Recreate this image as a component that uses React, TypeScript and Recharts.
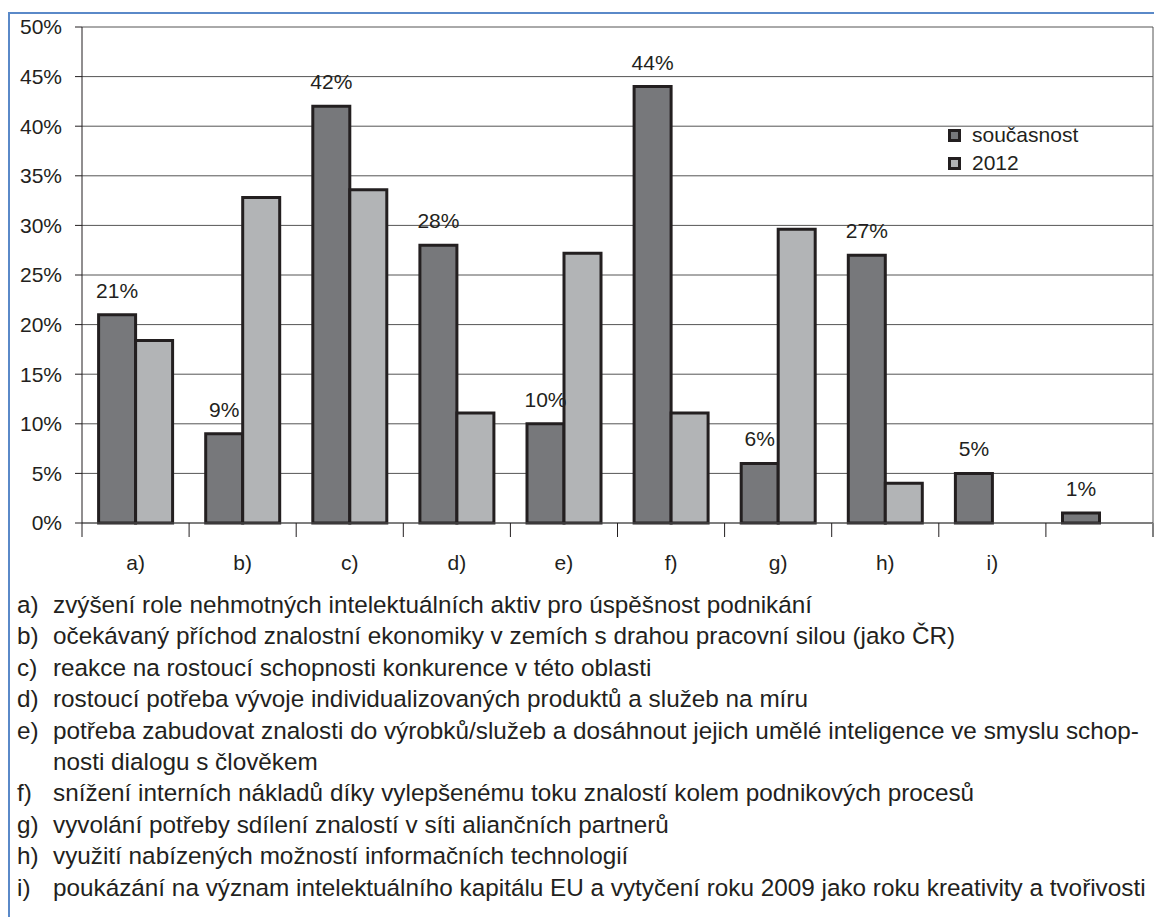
import React from 'react';
import { BarChart, Bar, XAxis, YAxis, CartesianGrid, Legend, LabelList } from 'recharts';

const categories = ['a)', 'b)', 'c)', 'd)', 'e)', 'f)', 'g)', 'h)', 'i)', ''];
const current = [21, 9, 42, 28, 10, 44, 6, 27, 5, 1];
const year2012 = [18.4, 32.8, 33.6, 11.1, 27.2, 11.1, 29.6, 4.0, null, null];
const yTicks = [0, 5, 10, 15, 20, 25, 30, 35, 40, 45, 50];

const descriptions: [string, string[]][] = [
  ['a)', ['zvýšení role nehmotných intelektuálních aktiv pro úspěšnost podnikání']],
  ['b)', ['očekávaný příchod znalostní ekonomiky v zemích s drahou pracovní silou (jako ČR)']],
  ['c)', ['reakce na rostoucí schopnosti konkurence v této oblasti']],
  ['d)', ['rostoucí potřeba vývoje individualizovaných produktů a služeb na míru']],
  ['e)', ['potřeba zabudovat znalosti do výrobků/služeb a dosáhnout jejich umělé inteligence ve smyslu schop-', 'nosti dialogu s člověkem']],
  ['f)', ['snížení interních nákladů díky vylepšenému toku znalostí kolem podnikových procesů']],
  ['g)', ['vyvolání potřeby sdílení znalostí v síti aliančních partnerů']],
  ['h)', ['využití nabízených možností informačních technologií']],
  ['i)', ['poukázání na význam intelektuálního kapitálu EU a vytyčení roku 2009 jako roku kreativity a tvořivosti']],
];

const data = categories.map((name, i) => ({ name, current: current[i], y2012: year2012[i] }));

const FONT = '"Liberation Sans", Arial, sans-serif';
const INK = '#231f20';
const DARK = '#77787b';
const LIGHT = '#b2b4b6';

// category label plus the boundary tick marks between categories
const CategoryTick = (props: any) => {
  const { x, y, payload, index } = props;
  const half = payload.offset ?? 0;
  const last = index === categories.length - 1;
  return (
    <g>
      <line x1={x - half} x2={x - half} y1={y} y2={y + 14} stroke={INK} strokeWidth={1} />
      {last && <line x1={x + half} x2={x + half} y1={y} y2={y + 14} stroke="#808080" strokeWidth={2} />}
      <text x={x} y={y + 47} textAnchor="middle" fontSize={21} fontFamily={FONT} fill={INK}>
        {payload.value}
      </text>
    </g>
  );
};

const LegendBox = () => (
  <div style={{ fontFamily: FONT, fontSize: 21, color: INK, lineHeight: '28px' }}>
    {[
      { label: 'současnost', fill: DARK },
      { label: '2012', fill: LIGHT },
    ].map((item) => (
      <div key={item.label} style={{ display: 'flex', alignItems: 'center' }}>
        <span
          style={{
            display: 'inline-block',
            width: 7,
            height: 7,
            border: `3px solid ${INK}`,
            background: item.fill,
            marginRight: 11,
          }}
        />
        {item.label}
      </div>
    ))}
  </div>
);

export default function App() {
  return (
    <div style={{ position: 'relative', width: 1154, height: 909, background: '#fff' }}>
      <div
        style={{
          position: 'absolute',
          left: 0,
          top: 4,
          right: 0,
          bottom: 0,
          borderLeft: '2px solid #5a89c8',
          borderTop: '2px solid #5a89c8',
        }}
      />
      <div style={{ position: 'absolute', left: 0, top: 0 }}>
        <BarChart
          width={1154}
          height={570}
          data={data}
          margin={{ top: 19, right: 9, bottom: 5, left: 0 }}
          barCategoryGap="15.5%"
          barGap={0}
        >
          <CartesianGrid
            stroke="#555"
            strokeWidth={1}
            verticalCoordinatesGenerator={({ offset }: any) => [offset.left + offset.width]}
          />
          <XAxis
            dataKey="name"
            interval={0}
            tickSize={0}
            tickMargin={0}
            height={50}
            axisLine={{ stroke: '#555' }}
            tick={<CategoryTick />}
          />
          <YAxis
            domain={[0, 50]}
            ticks={yTicks}
            width={74}
            tickSize={7}
            tickMargin={13}
            tickFormatter={(v: number) => `${v}%`}
            axisLine={{ stroke: INK }}
            tickLine={{ stroke: INK }}
            tick={{ fontSize: 21, fontFamily: FONT, fill: INK }}
          />
          <Legend
            layout="vertical"
            verticalAlign="middle"
            align="center"
            content={<LegendBox />}
            wrapperStyle={{ left: 940, top: 113, width: 200 }}
          />
          <Bar dataKey="current" name="současnost" fill={DARK} stroke={INK} strokeWidth={3} isAnimationActive={false}>
            <LabelList
              dataKey="current"
              position="top"
              offset={17}
              formatter={(v: number) => `${v}%`}
              style={{ fontSize: 21, fontFamily: FONT, fill: INK }}
            />
          </Bar>
          <Bar dataKey="y2012" name="2012" fill={LIGHT} stroke={INK} strokeWidth={3} isAnimationActive={false} />
        </BarChart>
      </div>
      <div
        style={{
          position: 'absolute',
          left: 9,
          top: 581,
          fontFamily: FONT,
          fontSize: 24.3,
          lineHeight: '31.4px',
          color: INK,
          whiteSpace: 'nowrap',
        }}
      >
        {descriptions.map(([key, lines]) =>
          lines.map((line, j) => (
            <div key={key + j} style={{ display: 'flex' }}>
              <span style={{ width: 36, display: 'inline-block' }}>{j === 0 ? key : ''}</span>
              <span>{line}</span>
            </div>
          ))
        )}
      </div>
    </div>
  );
}
